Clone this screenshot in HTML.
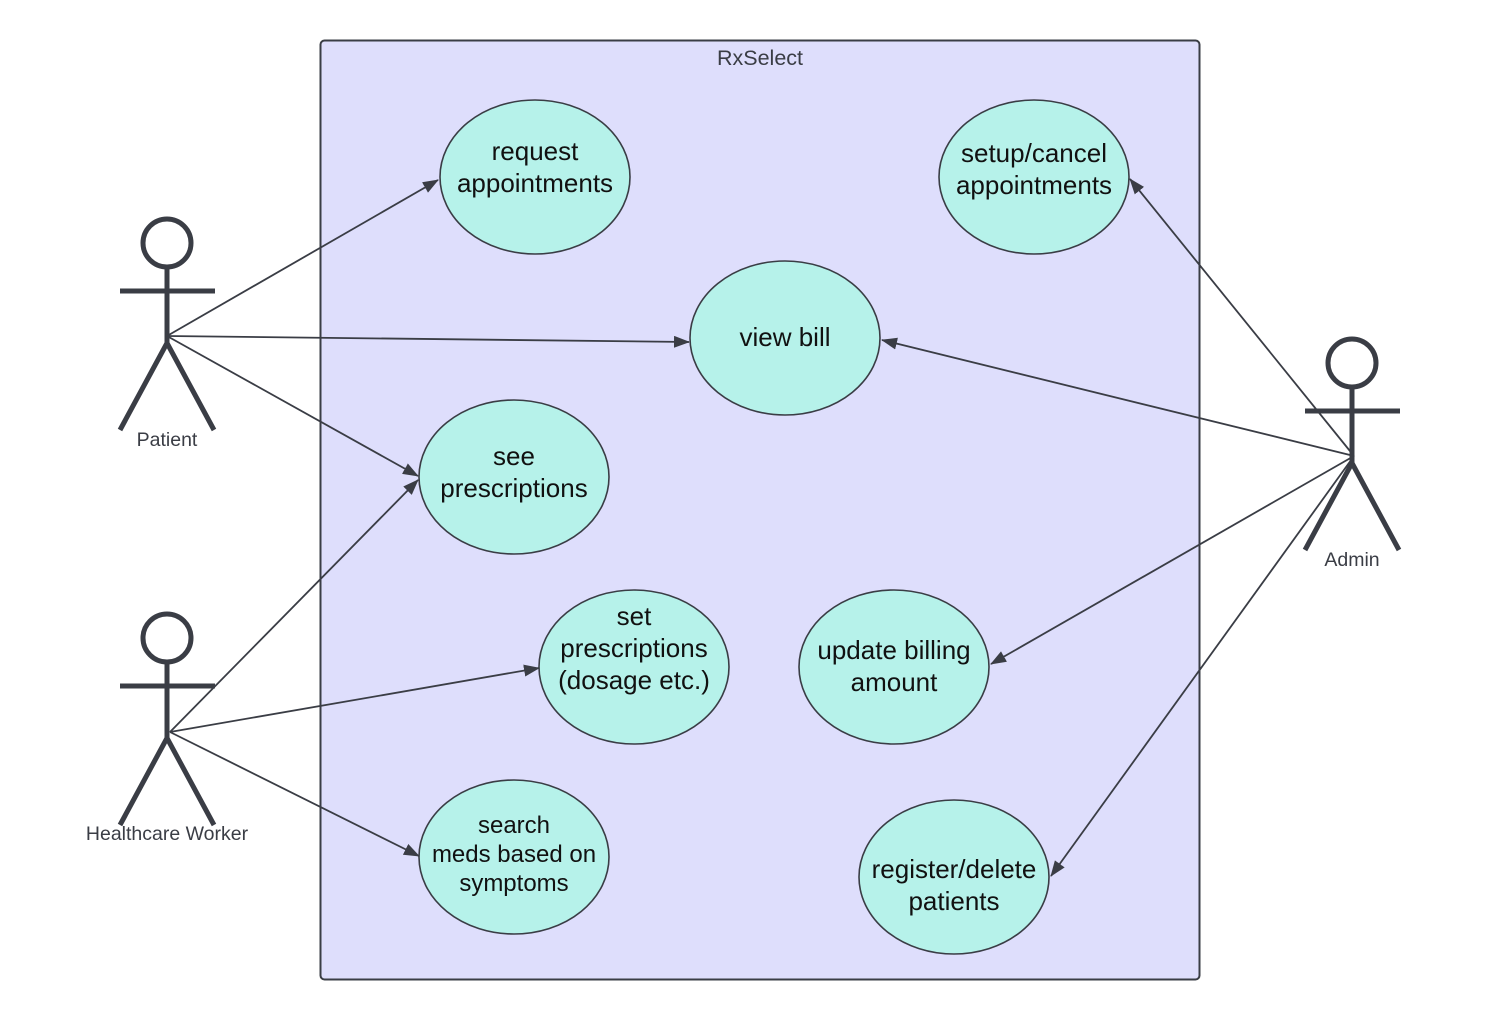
<!DOCTYPE html>
<html><head><style>
html,body{margin:0;padding:0;background:#fff;}
svg{display:block;}
text{font-family:"Liberation Sans",sans-serif;}
</style></head><body>
<svg width="1500" height="1020" viewBox="0 0 1500 1020" xmlns="http://www.w3.org/2000/svg">
<defs>
<marker id="a" viewBox="0 0 16 12" refX="15" refY="6" markerWidth="16" markerHeight="12" markerUnits="userSpaceOnUse" orient="auto">
<path d="M0,0 L16,6 L0,12 Z" fill="#3a3d45"/>
</marker>
</defs>
<rect x="320.5" y="40.5" width="879" height="939" rx="4" fill="#dedefc" stroke="#3a3d45" stroke-width="2"/>
<text x="760" y="65" font-size="21.5" fill="#3a3d45" text-anchor="middle">RxSelect</text>

<g fill="#b6f2ea" stroke="#3a3d45" stroke-width="1.6">
<ellipse cx="535" cy="177" rx="95" ry="77"/>
<ellipse cx="1034" cy="177" rx="95" ry="77"/>
<ellipse cx="785" cy="338" rx="95" ry="77"/>
<ellipse cx="514" cy="477" rx="95" ry="77"/>
<ellipse cx="634" cy="667" rx="95" ry="77"/>
<ellipse cx="894" cy="667" rx="95" ry="77"/>
<ellipse cx="514" cy="857" rx="95" ry="77"/>
<ellipse cx="954" cy="877" rx="95" ry="77"/>
</g>
<g font-size="26" fill="#111" text-anchor="middle">
<text x="535" y="160">request</text><text x="535" y="192">appointments</text>
<text x="1034" y="162">setup/cancel</text><text x="1034" y="194">appointments</text>
<text x="785" y="346">view bill</text>
<text x="514" y="465">see</text><text x="514" y="497">prescriptions</text>
<text x="634" y="625">set</text><text x="634" y="657">prescriptions</text><text x="634" y="689">(dosage etc.)</text>
<text x="894" y="659">update billing</text><text x="894" y="691">amount</text>
<text x="954" y="878">register/delete</text><text x="954" y="910">patients</text>
</g>
<g font-size="24" fill="#111" text-anchor="middle">
<text x="514" y="833">search</text><text x="514" y="862">meds based on</text><text x="514" y="891">symptoms</text>
</g>

<g stroke="#3a3d45" stroke-width="1.8" fill="none" marker-end="url(#a)">
<line x1="167" y1="336" x2="438" y2="180"/>
<line x1="167" y1="336" x2="689" y2="342"/>
<line x1="167" y1="336" x2="418" y2="476"/>
<line x1="170" y1="732" x2="418" y2="480"/>
<line x1="170" y1="732" x2="539" y2="668"/>
<line x1="170" y1="732" x2="419" y2="856"/>
<line x1="1354" y1="456" x2="1130" y2="179"/>
<line x1="1354" y1="456" x2="882" y2="340"/>
<line x1="1354" y1="456" x2="991" y2="664"/>
<line x1="1354" y1="456" x2="1051" y2="876"/>
</g>

<g stroke="#3a3d45" stroke-width="5" fill="none">
<circle cx="167" cy="243" r="24"/>
<line x1="167" y1="267" x2="167" y2="343"/>
<line x1="120" y1="291" x2="215" y2="291"/>
<path d="M120,430 L167,343 L214,430"/>
<circle cx="167" cy="638" r="24"/>
<line x1="167" y1="662" x2="167" y2="738"/>
<line x1="120" y1="686" x2="215" y2="686"/>
<path d="M120,825 L167,738 L214,825"/>
<circle cx="1352" cy="363" r="24"/>
<line x1="1352" y1="387" x2="1352" y2="463"/>
<line x1="1305" y1="411" x2="1400" y2="411"/>
<path d="M1305,550 L1352,463 L1399,550"/>
</g>
<g font-size="19.5" fill="#3a3d45" text-anchor="middle">
<text x="167" y="446">Patient</text>
<text x="167" y="840">Healthcare Worker</text>
<text x="1352" y="566">Admin</text>
</g>
</svg>
</body></html>
